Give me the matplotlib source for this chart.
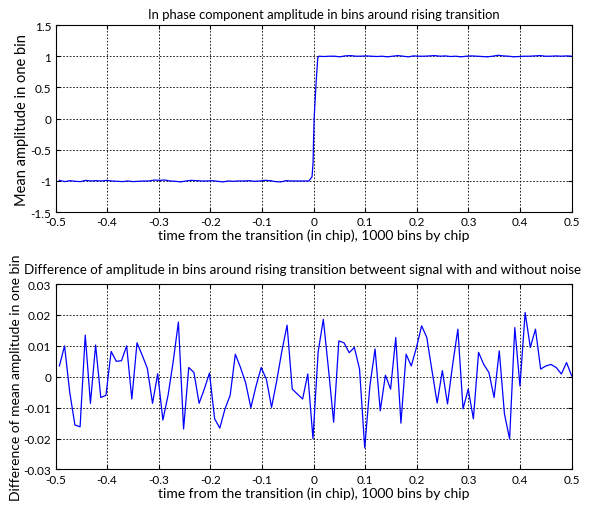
import numpy as np
import matplotlib
matplotlib.use("Agg")
import matplotlib.pyplot as plt
from matplotlib.ticker import FuncFormatter

plt.rcParams["font.family"] = ["Lato", "DejaVu Sans"]
plt.rcParams["axes.unicode_minus"] = False

# top panel: mean in-phase amplitude, left plateau / transition / right plateau
left_y = [-0.99, -1.01, -0.995, -1.005, -1.01, -0.99, -1.0, -0.995, -1.0, -0.99,
          -1.0, -1.005, -1.01, -1.0, -1.01, -1.005, -1.0, -1.0, -0.985, -0.99,
          -0.985, -1.0, -1.005, -1.015, -1.0, -0.99, -0.995, -1.0, -1.0, -0.995,
          -1.005, -1.015, -1.0, -1.005, -1.0, -1.0, -0.995, -1.005, -1.0, -0.99,
          -0.995, -1.01, -1.015, -0.995, -1.0, -1.0, -1.0, -1.0]
step_x = [-0.009, -0.003, -0.001, 0.0, 0.001, 0.003, 0.005, 0.008]
step_y = [-1.0, -0.93, -0.7, -0.3, 0.0, 0.3, 0.6, 0.97]
right_y = [1.0, 0.995, 1.0, 1.0, 0.99, 1.005, 1.01, 1.0, 1.0, 1.005,
           1.0, 0.995, 1.0, 0.99, 1.0, 1.01, 1.0, 0.99, 1.005, 1.0,
           1.0, 1.005, 1.01, 1.0, 1.005, 0.995, 1.0, 0.99, 1.0, 1.005,
           1.0, 0.995, 0.99, 1.0, 1.015, 1.005, 1.0, 0.99, 0.995, 1.0,
           1.0, 1.005, 1.01, 1.0, 1.0, 1.005, 1.0, 1.005, 1.0]

# bottom panel: difference with / without noise
diff_y = [0.0035, 0.010, -0.005, -0.0156, -0.0162, 0.0135, -0.0086, 0.0103, -0.0067, -0.006,
          0.0082, 0.005, 0.0052, 0.010, -0.0072, 0.011, 0.007, 0.0027, -0.0086, 0.001,
          -0.014, -0.006, 0.005, 0.0177, -0.0169, 0.003, 0.0014, -0.0086, -0.004, 0.0012,
          -0.0136, -0.0166, -0.0104, -0.006, 0.0073, 0.003, -0.002, -0.0100, -0.003, 0.003,
          -0.0008, -0.0099, -0.0013, 0.0084, 0.0167, -0.004, -0.0056, -0.0072, 0.0009, -0.020,
          0.008, 0.0186, 0.0025, -0.0147, 0.0116, 0.011, 0.0078, 0.0095, 0.0025, -0.023,
          -0.003, 0.009, -0.011, 0.0005, -0.004, 0.0127, -0.0150, 0.0073, 0.0035, 0.0095,
          0.0165, 0.0127, 0.002, -0.0085, 0.002, -0.0088, 0.004, 0.0154, -0.0104, -0.004,
          -0.0136, 0.0079, 0.004, 0.0014, -0.0067, 0.0084, -0.012, -0.0201, 0.0159, -0.003,
          0.0208, 0.0095, 0.0154, 0.0025, 0.0035, 0.004, 0.003, 0.0009, 0.0046, 0.0003]

x_ticks = [-0.5, -0.4, -0.3, -0.2, -0.1, 0, 0.1, 0.2, 0.3, 0.4, 0.5]
top_yticks = [-1.5, -1, -0.5, 0, 0.5, 1, 1.5]
bot_yticks = [-0.03, -0.02, -0.01, 0, 0.01, 0.02, 0.03]

left_x = np.linspace(-0.4925, -0.0125, len(left_y))
right_x = np.linspace(0.01, 0.5, len(right_y))
top_x = np.concatenate([left_x, step_x, right_x])
top_y = np.concatenate([left_y, step_y, right_y])
diff_x = np.linspace(-0.4925, 0.5, len(diff_y))

fig = plt.figure(figsize=(6.02, 5.10), dpi=100)
ax1 = fig.add_axes([0.0922, 0.582, 0.8575, 0.367])
ax2 = fig.add_axes([0.0922, 0.0775, 0.8575, 0.3635])

fmt = FuncFormatter(lambda v, p: "%g" % round(v, 4))


def style(ax, yticks):
    ax.set_xlim(-0.5, 0.5)
    ax.set_ylim(yticks[0], yticks[-1])
    ax.set_xticks(x_ticks)
    ax.set_yticks(yticks)
    ax.xaxis.set_major_formatter(fmt)
    ax.yaxis.set_major_formatter(fmt)
    ax.tick_params(direction="in", length=3, labelsize=8.5, colors="black", pad=3,
                   top=True, right=True)
    ax.grid(True, color="black", linestyle=(0, (2, 2)), linewidth=0.6)
    for s in ax.spines.values():
        s.set_linewidth(0.8)


ax1.plot(top_x, top_y, color="#0000ff", linewidth=0.9)
style(ax1, top_yticks)
ax1.set_title("In phase component amplitude in bins around rising transition",
              fontsize=9.4, pad=5, x=0.52)
ax1.set_xlabel("time from the transition (in chip), 1000 bins by chip", fontsize=10, labelpad=1)
ax1.set_ylabel("Mean amplitude in one bin", fontsize=10.5, labelpad=1)

ax2.plot(diff_x, diff_y, color="#0000ff", linewidth=0.9)
style(ax2, bot_yticks)
ax2.set_title("Difference of amplitude in bins around rising transition betweent signal with and without noise",
              fontsize=9.6, pad=8, x=0.478)
ax2.set_xlabel("time from the transition (in chip), 1000 bins by chip", fontsize=10, labelpad=1)
ax2.set_ylabel("Difference of mean amplitude in one bin", fontsize=10, labelpad=1)

fig.savefig("out.png", dpi=100)
